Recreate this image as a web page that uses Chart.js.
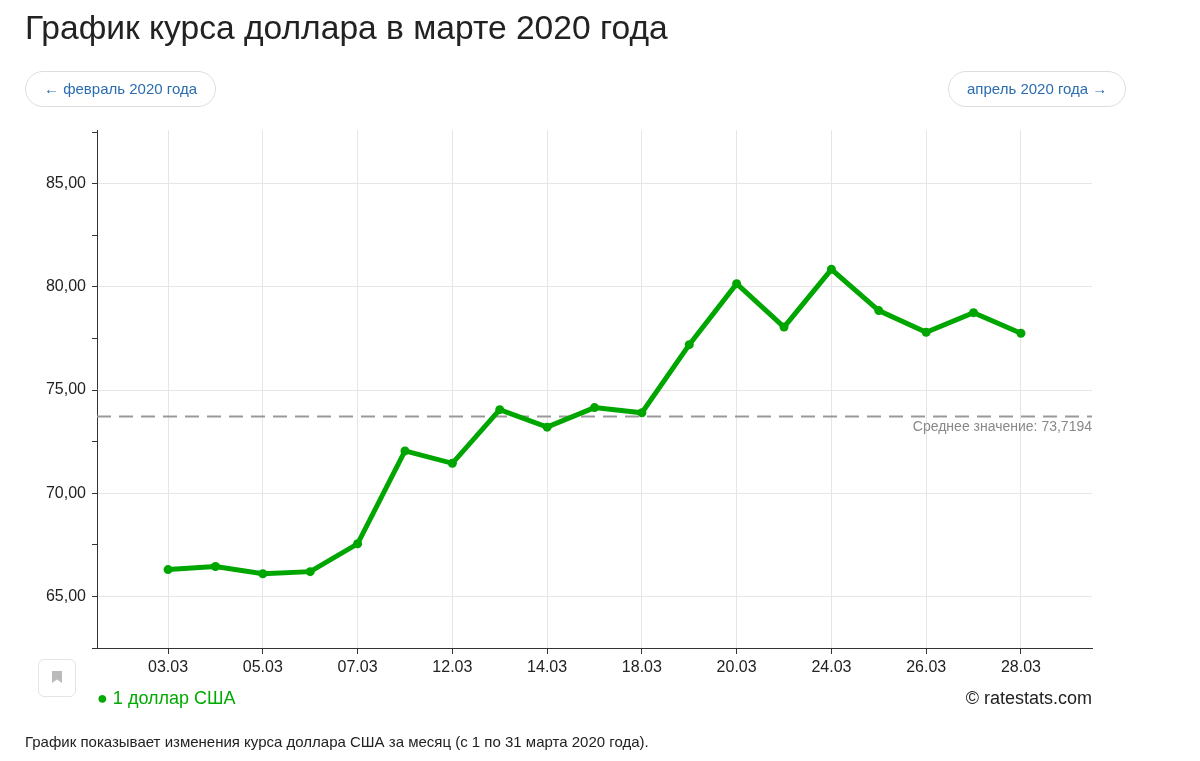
<!DOCTYPE html>
<html><head><meta charset="utf-8">
<script src="https://cdn.jsdelivr.net/npm/chart.js@4.4.0/dist/chart.umd.min.js"></script>
<style>
body{margin:0;background:#fff;font-family:"Liberation Sans",Arial,sans-serif;width:1200px;height:761px;position:relative;overflow:hidden}
h1{position:absolute;left:25px;top:9px;margin:0;font-weight:normal;font-size:33.6px;color:#222}
.btn{position:absolute;top:71px;height:34px;line-height:34px;border:1px solid #ddd;border-radius:18px;color:#2a6db0;font-size:15px;padding:0 16px}
#wrap{position:absolute;left:0;top:0;width:1200px;height:761px}
.bm{position:absolute;left:38px;top:659px;width:36px;height:36px;border:1px solid #e4e4e4;border-radius:6px;background:#fff}
.bm span{position:absolute;left:13px;top:11px;width:10px;height:12px;background:#bbb;clip-path:polygon(0 0,100% 0,100% 100%,50% 70%,0 100%)}
.leg{position:absolute;left:97px;top:688px;color:#0a0;font-size:18px}
.copy{position:absolute;right:108px;top:688px;color:#222;font-size:18px}
.cap{position:absolute;left:25px;top:733px;color:#222;font-size:15px}
</style></head><body>
<div id="wrap"><canvas id="c"></canvas></div>
<h1>График курса доллара в марте 2020 года</h1>
<div class="btn" style="left:25px;padding:0 18px">← февраль 2020 года</div>
<div class="btn" style="left:948px;padding:0 18px">апрель 2020 года →</div>
<div class="bm"><span></span></div>
<div class="leg">● 1 доллар США</div>
<div class="copy">© ratestats.com</div>
<div class="cap">График показывает изменения курса доллара США за месяц (с 1 по 31 марта 2020 года).</div>
<script>
// даты и курс
const dates = ['03.03','04.03','05.03','06.03','07.03','11.03','12.03','13.03','14.03','17.03','18.03','19.03','20.03','21.03','24.03','25.03','26.03','27.03','28.03'];
const rates = [66.30,66.45,66.10,66.20,67.55,72.05,71.45,74.05,73.20,74.15,73.90,77.20,80.15,78.05,80.85,78.85,77.80,78.75,77.75];
const average = 73.7194;

const fmt = v => v.toFixed(2).replace('.', ',');
const green = '#00a600';

const avgLabel = {
  id: 'avgLabel',
  afterDatasetsDraw(chart) {
    const { ctx, chartArea, scales } = chart;
    ctx.save();
    ctx.font = '14px "Liberation Sans", Arial';
    ctx.fillStyle = '#888';
    ctx.textAlign = 'right';
    ctx.textBaseline = 'top';
    ctx.fillText('Среднее значение: ' + average.toFixed(4).replace('.', ','), chartArea.right, scales.y.getPixelForValue(average) + 4);
    ctx.restore();
  }
};

new Chart(document.getElementById('c'), {
  type: 'line',
  data: {
    datasets: [{
      data: rates.map((v, i) => ({ x: i, y: v })),
      borderColor: green, backgroundColor: green,
      borderWidth: 5, pointRadius: 4.5, pointBorderWidth: 0, tension: 0
    }, {
      data: [{ x: -1.5, y: average }, { x: 19.5, y: average }],
      borderColor: '#999', borderWidth: 2, borderDash: [14, 8], pointRadius: 0
    }]
  },
  options: {
    responsive: true, maintainAspectRatio: false, animation: false,
    layout: { padding: { top: 130, right: 108, left: 0, bottom: 0 } },
    plugins: { legend: { display: false }, tooltip: { enabled: false } },
    scales: {
      x: {
        type: 'linear', min: -1.5, max: 19.5,
        afterBuildTicks: s => { s.ticks = dates.map((d, i) => ({ value: i })).filter(t => t.value % 2 === 0); },
        afterFit: s => { s.height = 113; },
        ticks: { callback: v => dates[v], color: '#222', font: { size: 16, family: '"Liberation Sans", Arial' }, padding: 4, maxRotation: 0 },
        grid: { color: '#e6e6e6', tickColor: '#333', tickLength: 6 },
        border: { color: '#333' }
      },
      y: {
        min: 62.5, max: 87.6,
        afterBuildTicks: s => { const t = []; for (let v = 62.5; v <= 87.5; v += 2.5) t.push({ value: v }); s.ticks = t; },
        afterFit: s => { s.width = 97; },
        ticks: { callback: v => (v % 5 === 0 ? fmt(v) : ''), color: '#222', font: { size: 16, family: '"Liberation Sans", Arial' }, padding: 6 },
        grid: {
          color: c => (c.tick && c.tick.value % 5 === 0 ? '#e6e6e6' : 'rgba(0,0,0,0)'),
          tickColor: '#333', tickLength: 5
        },
        border: { color: '#333' }
      }
    }
  },
  plugins: [avgLabel]
});
</script>
</body></html>
